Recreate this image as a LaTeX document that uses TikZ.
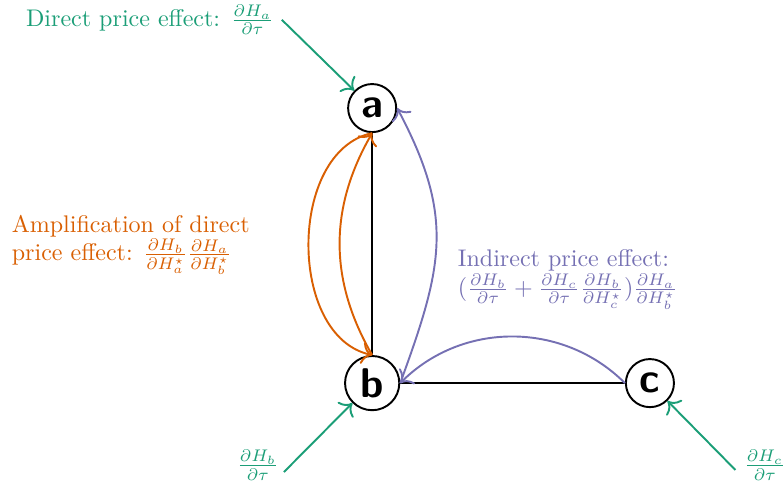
\documentclass[tikz,border=0pt]{standalone}
\usepackage{amsmath}
\usetikzlibrary{arrows.meta}
\definecolor{dgreen}{HTML}{1B9E77}
\definecolor{dorange}{HTML}{D95F02}
\definecolor{dpurple}{HTML}{7570B3}

\begin{document}
\begin{tikzpicture}[scale=1.0,
  vertex/.style={circle, draw=black, thick, inner sep=2.5pt, minimum size=20pt, font=\sffamily\bfseries\LARGE},
  link/.style={black, thick},
  direct/.style={dgreen, thick, -{To[scale=1.3]}},
  amplify/.style={dorange, thick, -{To[scale=1.3]}},
  indirect/.style={dpurple, thick, -{To[scale=1.3]}},
  note/.style={inner sep=3pt, align=left}]

  \useasboundingbox (0,0) rectangle (11.46,7.22);

  % the three markets and their links
  \node[vertex] (a) at (5.44,5.64) {a};
  \node[vertex] (b) at (5.44,1.62) {b};
  \node[vertex] (c) at (9.50,1.62) {c};
  \draw[link] (a) -- (b) -- (c);

  % direct price effects (green)
  \node[note, dgreen, anchor=east] (lbla) at (4.12,6.93)
    {Direct price effect: $\frac{\partial H_a}{\partial \tau}$};
  \draw[direct] (lbla.east) -- (a);

  \coordinate (tb) at (4.15,0.32);
  \node[note, dgreen] (lblb) at (3.77,0.42) {$\frac{\partial H_b}{\partial \tau}$};
  \draw[direct] (tb) -- (b);

  \coordinate (tc) at (10.75,0.35);
  \node[note, dgreen] (lblc) at (11.18,0.42) {$\frac{\partial H_c}{\partial \tau}$};
  \draw[direct] (tc) -- (c);

  % amplification loop between a and b (orange)
  \draw[amplify] (a.south) to[bend right=78] (b.north);
  \draw[amplify] (b.north) to[bend left=30] (a.south);
  \node[note, dorange, anchor=west] (lblamp) at (0.06,3.64)
    {Amplification of direct\\
     price effect: $\frac{\partial H_b}{\partial H_a^\star}\frac{\partial H_a}{\partial H_b^\star}$};

  % indirect effect through c (purple)
  \draw[indirect] (c.west) to[bend right=45] (b.east);
  \draw[indirect] (b.east) to[out=70, in=-62, looseness=1.15] (a.east);
  \node[note, dpurple, anchor=west] (lblind) at (6.58,3.13)
    {Indirect price effect:\\
     $(\frac{\partial H_b}{\partial \tau} + \frac{\partial H_c}{\partial \tau}\frac{\partial H_b}{\partial H_c^\star})\frac{\partial H_a}{\partial H_b^\star}$};
\end{tikzpicture}
\end{document}
